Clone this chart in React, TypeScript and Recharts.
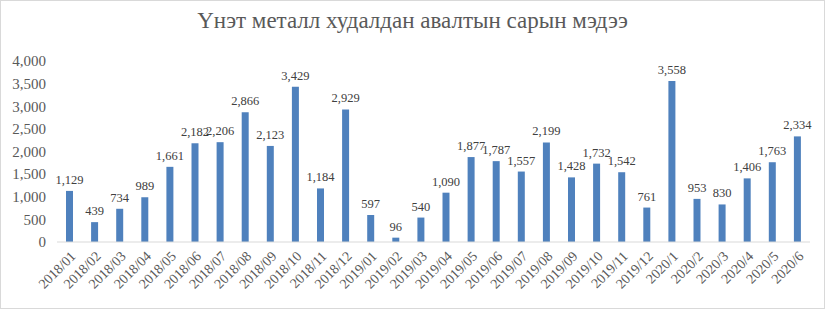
import React from 'react';
import { BarChart, Bar, XAxis, YAxis, LabelList } from 'recharts';

const months = [
  '2018/01', '2018/02', '2018/03', '2018/04', '2018/05', '2018/06', '2018/07', '2018/08', '2018/09', '2018/10',
  '2018/11', '2018/12', '2019/01', '2019/02', '2019/03', '2019/04', '2019/05', '2019/06', '2019/07', '2019/08',
  '2019/09', '2019/10', '2019/11', '2019/12', '2020/1', '2020/2', '2020/3', '2020/4', '2020/5', '2020/6',
];
const purchases = [
  1129, 439, 734, 989, 1661, 2182, 2206, 2866, 2123, 3429,
  1184, 2929, 597, 96, 540, 1090, 1877, 1787, 1557, 2199,
  1428, 1732, 1542, 761, 3558, 953, 830, 1406, 1763, 2334,
];
const yTicks = [0, 500, 1000, 1500, 2000, 2500, 3000, 3500, 4000];

const data = months.map((m, i) => ({ month: m, value: purchases[i] }));

const font = '"Liberation Serif", "Times New Roman", serif';
const fmt = (v: number) => Number(v).toLocaleString('en-US');

const App: React.FC = () => {
  return (
    <div
      style={{
        position: 'absolute',
        left: 0,
        top: 0,
        width: 823,
        height: 307,
        border: '1px solid #d9d9d9',
        background: '#fff',
        fontFamily: font,
      }}
    >
      <style>{`.recharts-wrapper text { font-family: ${font} !important; }`}</style>
      <div
        style={{
          position: 'absolute',
          top: 7,
          left: 0,
          width: '100%',
          textAlign: 'center',
          fontSize: 23,
          color: '#595959',
        }}
      >
        Үнэт металл худалдан авалтын сарын мэдээ
      </div>
      <BarChart
        width={823}
        height={307}
        data={data}
        margin={{ top: 60, right: 14, left: 0, bottom: 5 }}
        barSize={7}
      >
        <XAxis
          dataKey="month"
          interval={0}
          tickLine={false}
          axisLine={{ stroke: '#d9d9d9' }}
          angle={-45}
          textAnchor="end"
          height={61}
          tick={{ fontSize: 14, fill: '#595959' }}
        />
        <YAxis
          domain={[0, 4000]}
          ticks={yTicks}
          width={56}
          axisLine={false}
          tickLine={false}
          tickSize={0}
          tickMargin={11}
          tickFormatter={fmt}
          tick={{ fontSize: 15, fill: '#595959' }}
        />
        <Bar dataKey="value" fill="#4f81bd" isAnimationActive={false}>
          <LabelList
            dataKey="value"
            position="top"
            offset={7}
            formatter={(v: any) => fmt(v)}
            style={{ fontSize: 12.5, fill: '#404040' }}
          />
        </Bar>
      </BarChart>
    </div>
  );
};

export default App;
